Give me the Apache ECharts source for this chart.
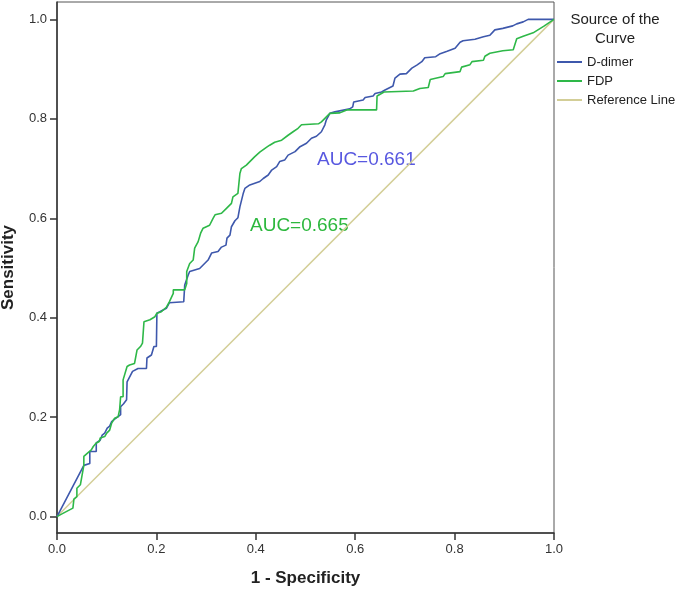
<!DOCTYPE html>
<html>
<head>
<meta charset="utf-8">
<script src="https://cdn.jsdelivr.net/npm/echarts@6/dist/echarts.min.js"></script>
<style>
html,body{margin:0;padding:0;background:#fff;}
#chart{width:675px;height:592px;}
</style>
</head>
<body>
<div id="chart"></div>
<script>
// ---- data ----
const dDimerFpr = [0,0.054,0.066,0.066,0.079,0.079,0.087,0.091,0.096,0.101,0.106,0.110,0.116,0.123,0.128,0.128,0.134,0.140,0.141,0.152,0.163,0.180,0.181,0.190,0.195,0.200,0.201,0.207,0.220,0.226,0.255,0.257,0.264,0.267,0.287,0.297,0.304,0.311,0.324,0.331,0.340,0.342,0.348,0.351,0.358,0.364,0.368,0.375,0.378,0.388,0.408,0.415,0.425,0.432,0.442,0.448,0.458,0.465,0.479,0.489,0.502,0.512,0.522,0.532,0.539,0.542,0.549,0.559,0.589,0.595,0.597,0.616,0.620,0.636,0.640,0.653,0.660,0.676,0.680,0.690,0.703,0.714,0.724,0.734,0.740,0.762,0.771,0.785,0.801,0.811,0.817,0.841,0.858,0.871,0.881,0.897,0.917,0.925,0.938,0.948,1];
const dDimerTpr = [0,0.103,0.107,0.131,0.131,0.148,0.154,0.164,0.168,0.178,0.182,0.191,0.196,0.201,0.205,0.221,0.227,0.235,0.271,0.292,0.298,0.298,0.319,0.325,0.342,0.342,0.409,0.412,0.419,0.430,0.432,0.466,0.486,0.493,0.499,0.509,0.516,0.530,0.533,0.542,0.546,0.560,0.566,0.583,0.595,0.601,0.623,0.651,0.660,0.667,0.674,0.680,0.687,0.697,0.704,0.714,0.717,0.727,0.734,0.744,0.751,0.761,0.765,0.774,0.788,0.798,0.811,0.814,0.820,0.824,0.834,0.838,0.843,0.846,0.851,0.854,0.858,0.866,0.882,0.890,0.891,0.902,0.908,0.915,0.923,0.925,0.931,0.936,0.942,0.954,0.957,0.960,0.965,0.968,0.979,0.982,0.987,0.991,0.995,1,1];
const fdpFpr = [0,0.009,0.032,0.034,0.040,0.040,0.047,0.051,0.054,0.054,0.062,0.069,0.073,0.079,0.085,0.087,0.096,0.100,0.106,0.110,0.116,0.123,0.126,0.128,0.133,0.133,0.141,0.146,0.156,0.161,0.168,0.172,0.175,0.187,0.192,0.197,0.201,0.210,0.220,0.226,0.234,0.234,0.257,0.261,0.261,0.267,0.274,0.277,0.284,0.289,0.294,0.307,0.314,0.318,0.331,0.341,0.351,0.354,0.364,0.368,0.371,0.381,0.391,0.398,0.408,0.422,0.428,0.438,0.452,0.465,0.475,0.485,0.492,0.526,0.532,0.539,0.549,0.569,0.583,0.643,0.644,0.658,0.717,0.730,0.747,0.751,0.777,0.781,0.811,0.814,0.831,0.835,0.858,0.861,0.871,0.897,0.918,0.925,0.938,0.958,0.979,1];
const fdpTpr = [0,0.005,0.017,0.035,0.040,0.057,0.064,0.067,0.103,0.121,0.128,0.134,0.141,0.148,0.151,0.158,0.161,0.168,0.174,0.188,0.198,0.201,0.215,0.241,0.241,0.275,0.302,0.305,0.308,0.335,0.342,0.349,0.392,0.396,0.399,0.402,0.409,0.412,0.421,0.432,0.449,0.456,0.456,0.469,0.493,0.509,0.516,0.540,0.553,0.570,0.580,0.586,0.600,0.607,0.610,0.620,0.630,0.643,0.650,0.690,0.700,0.707,0.717,0.724,0.733,0.743,0.747,0.753,0.757,0.767,0.774,0.781,0.788,0.790,0.794,0.801,0.811,0.812,0.818,0.818,0.846,0.854,0.856,0.861,0.863,0.879,0.885,0.891,0.895,0.904,0.909,0.915,0.918,0.926,0.932,0.937,0.939,0.961,0.966,0.973,0.986,1];
const refFpr = [0, 1];
const refTpr = [0, 1];
const xTicks = [0, 0.2, 0.4, 0.6, 0.8, 1.0];
const yTicks = [0, 0.2, 0.4, 0.6, 0.8, 1.0];
const seriesNames = ['D-dimer', 'FDP', 'Reference Line'];
const aucLabels = ['AUC=0.661', 'AUC=0.665'];
const legendTitle = 'Source of the\nCurve';

const zip = (a, b) => a.map((v, i) => [v, b[i]]);
const FONT = "'Liberation Sans', Arial, sans-serif";
const BLUE = '#3E58AC', GREEN = '#2EB848', BEIGE = '#D3CE97';

const chart = echarts.init(document.getElementById('chart'), null, {renderer: 'canvas'});
chart.setOption({
  animation: false,
  backgroundColor: '#ffffff',
  grid: {left: 57, right: 121, top: 2, bottom: 59, show: true, borderColor: '#555', borderWidth: 1, containLabel: false, outerBoundsMode: 'none'},
  xAxis: {
    type: 'value', min: 0, max: 1, interval: 0.2,
    name: '1 - Specificity', nameLocation: 'middle', nameGap: 37,
    nameTextStyle: {fontFamily: FONT, fontSize: 17, fontWeight: 'bold', color: '#222'},
    axisLine: {onZero: false, lineStyle: {color: '#333', width: 1.5}},
    axisTick: {show: true, length: 7, lineStyle: {color: '#333', width: 1.5}},
    axisLabel: {fontFamily: FONT, fontSize: 13, color: '#333', margin: 10, formatter: v => v.toFixed(1)},
    splitLine: {show: false}
  },
  yAxis: {
    type: 'value', min: -0.033, max: 1.035,
    name: 'Sensitivity', nameLocation: 'middle', nameGap: 40,
    nameTextStyle: {fontFamily: FONT, fontSize: 17, fontWeight: 'bold', color: '#222'},
    axisLine: {lineStyle: {color: '#333', width: 1.5}},
    axisTick: {show: true, length: 7, customValues: yTicks, lineStyle: {color: '#333', width: 1.5}},
    axisLabel: {fontFamily: FONT, fontSize: 13, color: '#333', margin: 10, customValues: yTicks, formatter: v => v.toFixed(1)},
    splitLine: {show: false}
  },
  legend: {
    orient: 'vertical', left: 552, top: 50,
    itemWidth: 25, itemHeight: 2, itemGap: 5,
    icon: 'rect',
    textStyle: {fontFamily: FONT, fontSize: 13, color: '#222', lineHeight: 14},
    data: seriesNames
  },
  graphic: [
    {type: 'text', x: 615, y: 10, style: {text: legendTitle, font: '15px ' + FONT, fill: '#222', align: 'center', lineHeight: 19}},
    {type: 'text', x: 317, y: 150, style: {text: aucLabels[0], font: '19px ' + FONT, fill: '#5858E0'}},
    {type: 'text', x: 250, y: 216, style: {text: aucLabels[1], font: '19px ' + FONT, fill: '#2DB83E'}}
  ],
  series: [
    {name: seriesNames[2], type: 'line', data: zip(refFpr, refTpr), showSymbol: false, lineStyle: {color: BEIGE, width: 1.5}, itemStyle: {color: BEIGE}, z: 1},
    {name: seriesNames[0], type: 'line', data: zip(dDimerFpr, dDimerTpr), showSymbol: false, lineStyle: {color: BLUE, width: 1.6}, itemStyle: {color: BLUE}, z: 2},
    {name: seriesNames[1], type: 'line', data: zip(fdpFpr, fdpTpr), showSymbol: false, lineStyle: {color: GREEN, width: 1.6}, itemStyle: {color: GREEN}, z: 3}
  ]
});
</script>
</body>
</html>
